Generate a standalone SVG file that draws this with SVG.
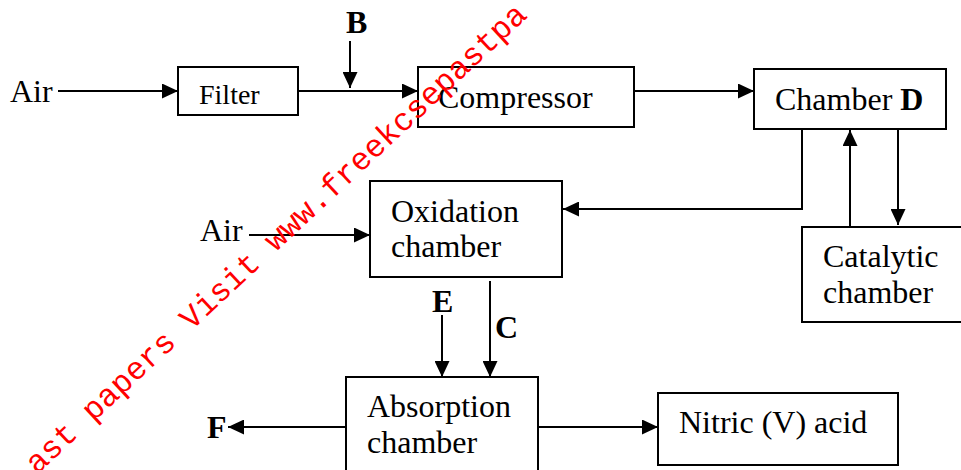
<svg xmlns="http://www.w3.org/2000/svg" width="961" height="470" viewBox="0 0 961 470">
<defs>
<marker id="ah" markerUnits="userSpaceOnUse" markerWidth="16" markerHeight="15" refX="16" refY="7.5" orient="auto">
<path d="M0,0 L16,7.5 L0,15 z" fill="#000"/>
</marker>
<style>
.box{fill:#fff;stroke:#000;stroke-width:2}
.t{font-size:32px;fill:#000}
.s{font-size:28px}
.b{font-weight:bold}
.c{fill:none;stroke:#000;stroke-width:2}
.a{marker-end:url(#ah)}
.wm{font-size:32px;fill:#ff0000}
</style>
</defs>
<rect width="961" height="470" fill="#fff"/>
<g id="connectors">
<line class="c a" x1="58" y1="91" x2="178" y2="91"/>
<line class="c a" x1="298" y1="91" x2="418" y2="91"/>
<line class="c a" x1="350" y1="41" x2="350" y2="88"/>
<line class="c a" x1="634" y1="91" x2="754" y2="91"/>
<polyline class="c a" points="802,129 802,209 563,209"/>
<line class="c a" x1="850" y1="227" x2="850" y2="130"/>
<line class="c a" x1="898" y1="129" x2="898" y2="225"/>
<line class="c a" x1="249" y1="235" x2="370" y2="235"/>
<line class="c a" x1="442" y1="315" x2="442" y2="377"/>
<line class="c a" x1="490" y1="281" x2="490" y2="377"/>
<line class="c a" x1="346" y1="427" x2="228" y2="427"/>
<line class="c a" x1="538" y1="427" x2="658" y2="427"/>
</g>
<g font-family="Liberation Serif, Times New Roman, serif">
<g id="air1"><text class="t" x="10" y="102">Air</text></g>
<g id="filter">
<rect class="box" x="178" y="67" width="120" height="48"/>
<text class="t s" x="199" y="104">Filter</text>
</g>
<g id="labelB"><text class="t b" x="346" y="33">B</text></g>
<g id="compressor">
<rect class="box" x="418" y="67" width="216" height="60"/>
<text class="t" x="438" y="108">Compressor</text>
</g>
<g id="chamberD">
<rect class="box" x="754" y="69" width="192" height="60"/>
<text class="t" x="775" y="110">Chamber <tspan class="b">D</tspan></text>
</g>
<g id="catalytic">
<rect class="box" x="802" y="227" width="170" height="95"/>
<text class="t" x="823" y="267">Catalytic</text>
<text class="t" x="823" y="303">chamber</text>
</g>
<g id="air2"><text class="t" x="200" y="241">Air</text></g>
<g id="oxidation">
<rect class="box" x="370" y="181" width="192" height="96"/>
<text class="t" x="391" y="222">Oxidation</text>
<text class="t" x="391" y="257">chamber</text>
</g>
<g id="labelE"><text class="t b" x="432" y="312">E</text></g>
<g id="labelC"><text class="t b" x="495" y="338">C</text></g>
<g id="absorption">
<rect class="box" x="346" y="377" width="192" height="110"/>
<text class="t" x="367" y="417">Absorption</text>
<text class="t" x="367" y="453">chamber</text>
</g>
<g id="labelF"><text class="t b" x="207" y="438">F</text></g>
<g id="nitric">
<rect class="box" x="658" y="393" width="240" height="72"/>
<text class="t" x="679" y="433">Nitric (V) acid</text>
</g>
</g>
<g id="watermark" font-family="Liberation Mono, Courier New, monospace">
<text class="wm" transform="translate(37,475) rotate(-43)">ast papers Visit www.freekcsepastpa</text>
</g>
</svg>
